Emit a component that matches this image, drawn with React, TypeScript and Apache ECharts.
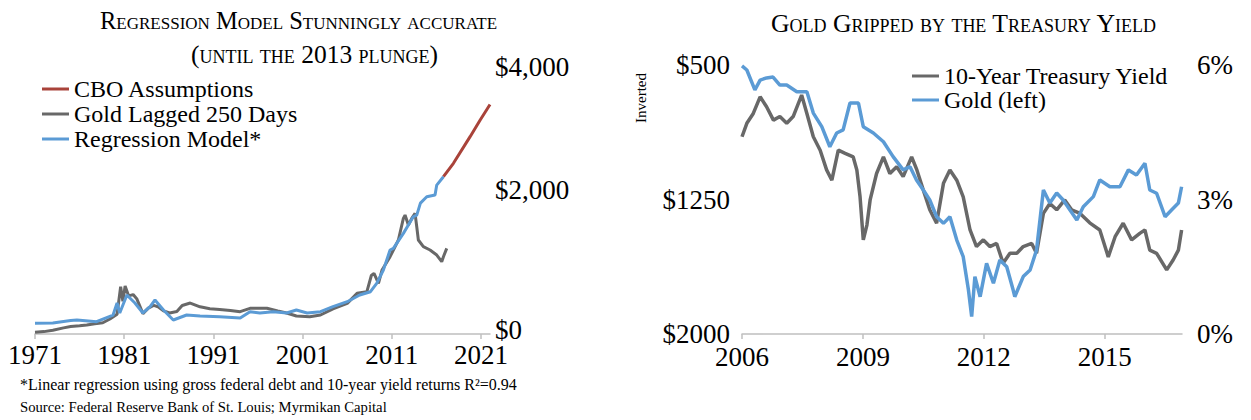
import React, { useEffect, useRef } from 'react';
import * as echarts from 'echarts';

const FONT = "'Liberation Serif', 'Times New Roman', serif";

// ---------- Left chart data ----------
const leftTicks = [1971, 1981, 1991, 2001, 2011, 2021];

const cboAssumptions: [number, number][] = [
  [2016.78, 2313], [2017.9, 2510], [2019.77, 2902], [2020.9, 3147], [2022, 3375],
];

const goldLagged250: [number, number][] = [
  [1971, 25], [1972, 35], [1973, 55], [1974.2, 90], [1975, 110], [1976, 120], [1976.8, 132],
  [1977.7, 150], [1978.6, 165], [1979.4, 220], [1980.2, 290], [1980.6, 696], [1980.85, 480],
  [1981.1, 706], [1981.5, 560], [1982, 580], [1982.4, 520], [1983.1, 300], [1983.7, 380],
  [1984.3, 420], [1984.8, 400], [1985.4, 340], [1986.1, 310], [1986.9, 330], [1987.5, 420],
  [1988.4, 455], [1989.5, 400], [1990.6, 370], [1991.7, 360], [1992.9, 345], [1994, 328],
  [1995.1, 378], [1996.2, 377], [1997, 378], [1998.2, 340], [1999.2, 309], [2000.3, 265],
  [2001.8, 255], [2003, 279], [2004.4, 370], [2006, 451], [2007.1, 598], [2008.2, 622],
  [2008.7, 860], [2009, 892], [2009.5, 745], [2009.9, 941], [2010.8, 1137], [2011.73, 1382],
  [2012.29, 1700], [2012.48, 1749], [2012.85, 1602], [2013.23, 1700], [2013.6, 1774],
  [2013.79, 1578], [2013.97, 1382], [2014.53, 1284], [2015.28, 1235], [2016.03, 1161],
  [2016.59, 1063], [2016.78, 1137], [2017.15, 1259],
];

const regressionModel: [number, number][] = [
  [1971, 157], [1973, 162], [1975, 200], [1975.7, 206], [1977.9, 181], [1979.75, 279],
  [1980.2, 456], [1980.5, 309], [1981.3, 573], [1982.2, 456], [1983.1, 309], [1983.9, 402],
  [1984.45, 500], [1985.4, 353], [1986.5, 206], [1988, 279], [1989.5, 265], [1991.7, 255],
  [1994, 235], [1995.1, 328], [1996.2, 309], [1997.7, 328], [1999.2, 309], [2000.3, 353],
  [2001.5, 309], [2003, 328], [2004.4, 402], [2006, 475], [2007.4, 573], [2008.6, 622],
  [2009.3, 745], [2010.05, 941], [2010.8, 1235], [2011.17, 1259], [2012.29, 1480],
  [2013.4, 1724], [2013.79, 1749], [2014.2, 1925], [2014.91, 2019], [2015.84, 2043],
  [2016.03, 2190], [2016.78, 2313],
];

// ---------- Right chart data ----------
const rightTicks = [2006, 2009, 2012, 2015];
const goldTicks = [500, 1250, 2000];

const goldPrice: [number, number][] = [
  [2006.0, 505], [2006.12, 528], [2006.32, 639], [2006.45, 584], [2006.61, 572], [2006.77, 567],
  [2006.94, 612], [2007.11, 612], [2007.36, 649], [2007.61, 649], [2007.77, 768], [2007.98, 844],
  [2008.18, 956], [2008.35, 879], [2008.51, 862], [2008.68, 712], [2008.89, 712], [2009.01, 844],
  [2009.26, 879], [2009.51, 928], [2009.75, 1011], [2010.0, 1085], [2010.17, 1067], [2010.33, 1141],
  [2010.5, 1197], [2010.66, 1253], [2010.83, 1346], [2011.0, 1383], [2011.16, 1346], [2011.33, 1476],
  [2011.49, 1569], [2011.62, 1755], [2011.7, 1903], [2011.78, 1680], [2011.91, 1792], [2012.07, 1606],
  [2012.24, 1717], [2012.4, 1587], [2012.57, 1625], [2012.73, 1755], [2012.77, 1792], [2012.98, 1680],
  [2013.15, 1643], [2013.31, 1532], [2013.48, 1197], [2013.64, 1270], [2013.81, 1214], [2013.97, 1253],
  [2014.14, 1309], [2014.31, 1364], [2014.47, 1290], [2014.72, 1234], [2014.88, 1141], [2015.13, 1179],
  [2015.38, 1179], [2015.59, 1085], [2015.79, 1113], [2016.0, 1048], [2016.12, 1197], [2016.29, 1215],
  [2016.5, 1346], [2016.66, 1309], [2016.83, 1270], [2016.91, 1179],
];

const treasuryYield: [number, number][] = [
  [2006.0, 4.4], [2006.12, 4.7], [2006.28, 4.92], [2006.45, 5.29], [2006.61, 5.07], [2006.78, 4.77],
  [2006.94, 4.85], [2007.11, 4.7], [2007.27, 4.85], [2007.48, 5.33], [2007.61, 4.92], [2007.77, 4.4],
  [2007.94, 4.1], [2008.1, 3.66], [2008.23, 3.43], [2008.39, 4.1], [2008.56, 4.03], [2008.76, 3.95],
  [2008.85, 3.66], [2008.93, 3.06], [2009.01, 2.1], [2009.1, 2.43], [2009.18, 2.99], [2009.34, 3.58],
  [2009.51, 3.95], [2009.67, 3.58], [2009.84, 3.73], [2010.0, 3.51], [2010.21, 3.95], [2010.34, 3.66],
  [2010.5, 3.21], [2010.66, 2.77], [2010.83, 2.47], [2011.0, 3.36], [2011.16, 3.66], [2011.33, 3.43],
  [2011.49, 3.06], [2011.66, 2.32], [2011.82, 1.95], [2011.99, 2.1], [2012.15, 1.95], [2012.32, 2.02],
  [2012.48, 1.58], [2012.65, 1.8], [2012.82, 1.8], [2012.98, 1.95], [2013.19, 2.02], [2013.31, 1.8],
  [2013.48, 2.69], [2013.64, 2.91], [2013.81, 2.77], [2014.01, 2.99], [2014.18, 2.77], [2014.39, 2.69],
  [2014.63, 2.48], [2014.88, 2.32], [2015.09, 1.72], [2015.26, 2.17], [2015.46, 2.47], [2015.67, 2.1],
  [2015.88, 2.25], [2016.0, 2.32], [2016.12, 1.87], [2016.29, 1.8], [2016.54, 1.43], [2016.7, 1.65],
  [2016.83, 1.87], [2016.91, 2.32],
];

// ---------- Texts ----------
const titleLeft1 = 'Regression Model Stunningly accurate';
const titleLeft2 = '(until the 2013 plunge)';
const titleRight = 'Gold Gripped by the Treasury Yield';
const footnote1 = '*Linear regression using gross federal debt and 10-year yield returns R\u00B2=0.94';
const footnote2 = 'Source: Federal Reserve Bank of St. Louis; Myrmikan Capital';
const smallCapsTexts = [titleLeft1, titleLeft2, titleRight];

const RED = '#A9433A';
const GRAY = '#686868';
const BLUE = '#5B9BD5';
const AXIS = '#BFBFBF';

const baseText = { fontFamily: FONT, color: '#000' };
const labelRich = {
  hi: { fontFamily: FONT, fontSize: 27, color: '#000', padding: [10, 0, 0, 0] },
  mid: { fontFamily: FONT, fontSize: 27, color: '#000', padding: [0, 0, 16, 0] },
  lo: { fontFamily: FONT, fontSize: 27, color: '#000', padding: [0, 0, 8, 0] },
};
const dollarLabel = (v: number) => {
  const t = '$' + v.toLocaleString('en-US');
  if (v === 0) return '{lo|' + t + '}';
  if (v === 2000) return '{mid|' + t + '}';
  return '{hi|' + t + '}';
};

const option: any = {
  animation: false,
  backgroundColor: '#fff',
  grid: [
    { left: 35, top: 62, width: 455, height: 272 },
    { left: 742, top: 65, width: 440, height: 269 },
  ],
  legend: [
    {
      data: ['CBO Assumptions', 'Gold Lagged 250 Days', 'Regression Model*'],
      orient: 'vertical', left: 37, top: 72, icon: 'rect', itemWidth: 27, itemHeight: 3, itemGap: 1,
      textStyle: { ...baseText, fontSize: 24 }, selectedMode: false,
    },
    {
      data: ['10-Year Treasury Yield', 'Gold (left)'],
      orient: 'vertical', left: 907, top: 59, icon: 'rect', itemWidth: 27, itemHeight: 3, itemGap: 0,
      textStyle: { ...baseText, fontSize: 24 }, selectedMode: false,
    },
  ],
  xAxis: [
    {
      type: 'value', gridIndex: 0, min: 1971, max: 2022,
      axisLine: { show: true, lineStyle: { color: AXIS, width: 1.5 } },
      axisTick: { show: true, customValues: leftTicks, length: 5, lineStyle: { color: AXIS, width: 1.5 } },
      axisLabel: { customValues: leftTicks, ...baseText, fontSize: 27, lineHeight: 22, margin: 10, formatter: (v: number) => String(v) },
      splitLine: { show: false },
    },
    {
      type: 'value', gridIndex: 1, min: 2006, max: 2016.92,
      axisLine: { show: true, lineStyle: { color: AXIS, width: 1.5 } },
      axisTick: { show: true, customValues: rightTicks, length: 5, lineStyle: { color: AXIS, width: 1.5 } },
      axisLabel: { customValues: rightTicks, ...baseText, fontSize: 27, lineHeight: 22, margin: 12, formatter: (v: number) => String(v) },
      splitLine: { show: false },
    },
  ],
  yAxis: [
    {
      type: 'value', gridIndex: 0, position: 'right', min: 0, max: 4000, interval: 2000,
      axisLine: { show: false }, axisTick: { show: false }, splitLine: { show: false },
      axisLabel: { ...baseText, fontSize: 27, margin: 5, formatter: dollarLabel, rich: labelRich },
    },
    {
      type: 'value', gridIndex: 1, position: 'left', inverse: true, min: 500, max: 2000,
      axisLine: { show: false }, axisTick: { show: false }, splitLine: { show: false },
      axisLabel: { customValues: goldTicks, ...baseText, fontSize: 27, lineHeight: 20, margin: 12, formatter: (v: number) => '$' + v },
    },
    {
      type: 'value', gridIndex: 1, position: 'right', min: 0, max: 6, interval: 3,
      axisLine: { show: false }, axisTick: { show: false }, splitLine: { show: false },
      axisLabel: { ...baseText, fontSize: 27, lineHeight: 20, margin: 15, formatter: (v: number) => v + '%' },
    },
  ],
  series: [
    {
      name: 'Gold Lagged 250 Days', type: 'line', xAxisIndex: 0, yAxisIndex: 0, data: goldLagged250,
      showSymbol: false, symbol: 'none', lineStyle: { color: GRAY, width: 3 }, itemStyle: { color: GRAY }, z: 2,
    },
    {
      name: 'CBO Assumptions', type: 'line', xAxisIndex: 0, yAxisIndex: 0, data: cboAssumptions,
      showSymbol: false, symbol: 'none', lineStyle: { color: RED, width: 3 }, itemStyle: { color: RED }, z: 3,
    },
    {
      name: 'Regression Model*', type: 'line', xAxisIndex: 0, yAxisIndex: 0, data: regressionModel,
      showSymbol: false, symbol: 'none', lineStyle: { color: BLUE, width: 3 }, itemStyle: { color: BLUE }, z: 4,
    },
    {
      name: '10-Year Treasury Yield', type: 'line', xAxisIndex: 1, yAxisIndex: 2, data: treasuryYield,
      showSymbol: false, symbol: 'none', lineStyle: { color: GRAY, width: 3.5 }, itemStyle: { color: GRAY }, z: 2,
    },
    {
      name: 'Gold (left)', type: 'line', xAxisIndex: 1, yAxisIndex: 1, data: goldPrice,
      showSymbol: false, symbol: 'none', lineStyle: { color: BLUE, width: 3.5 }, itemStyle: { color: BLUE }, z: 3,
    },
  ],
  graphic: [
    { type: 'text', x: 100, y: 20, style: { text: titleLeft1, fontFamily: FONT, fontSize: 24.5, fill: '#000', textAlign: 'left', textVerticalAlign: 'middle' } },
    { type: 'text', x: 191, y: 54, style: { text: titleLeft2, fontFamily: FONT, fontSize: 25.5, fill: '#000', textAlign: 'left', textVerticalAlign: 'middle' } },
    { type: 'text', x: 771, y: 23, style: { text: titleRight, fontFamily: FONT, fontSize: 25.7, fill: '#000', textAlign: 'left', textVerticalAlign: 'middle' } },
    { type: 'text', x: 641, y: 98, rotation: Math.PI / 2, style: { text: 'Inverted', fontFamily: FONT, fontSize: 15, fill: '#000', textAlign: 'center', textVerticalAlign: 'middle' } },
    { type: 'text', x: 20, y: 384, style: { text: footnote1, fontFamily: FONT, fontSize: 16, fill: '#000', textAlign: 'left', textVerticalAlign: 'middle' } },
    { type: 'text', x: 20, y: 407, style: { text: footnote2, fontFamily: FONT, fontSize: 14.7, fill: '#000', textAlign: 'left', textVerticalAlign: 'middle' } },
  ],
};

export default function App() {
  const ref = useRef<HTMLDivElement>(null);
  useEffect(() => {
    const el = ref.current!;
    const chart = echarts.init(el, null, { renderer: 'svg' });
    chart.setOption(option);
    const applySmallCaps = () => {
      el.querySelectorAll('text').forEach((t) => {
        if (smallCapsTexts.includes((t.textContent || '').trim())) {
          (t as SVGTextElement).style.fontVariant = 'small-caps';
        }
      });
    };
    applySmallCaps();
    chart.on('finished', applySmallCaps);
    return () => chart.dispose();
  }, []);
  return <div ref={ref} style={{ position: 'absolute', left: 0, top: 0, width: 1251, height: 420 }} />;
}
